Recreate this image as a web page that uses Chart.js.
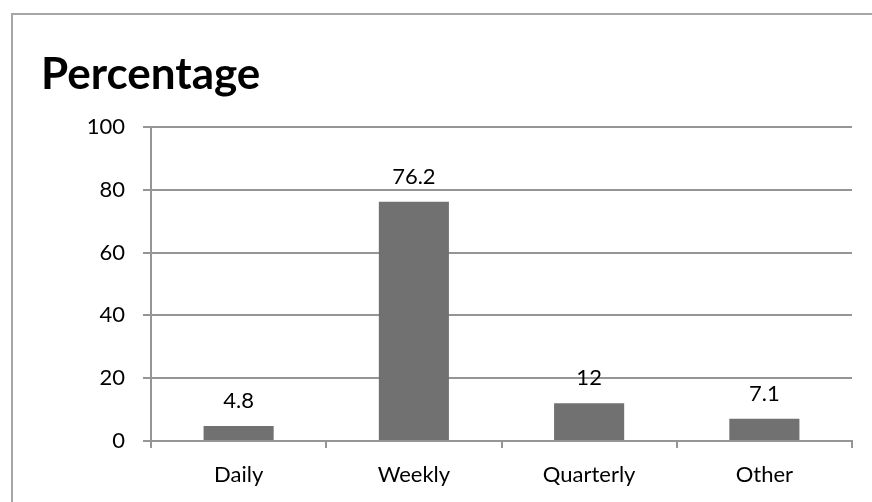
<!DOCTYPE html>
<html>
<head>
<meta charset="utf-8">
<script src="https://cdn.jsdelivr.net/npm/chart.js@4/dist/chart.umd.min.js"></script>
<style>
  html, body { margin: 0; padding: 0; background: #fff; }
  #wrap { position: relative; width: 872px; height: 502px; }
  #frame { position: absolute; left: 11px; top: 13px; right: 0; bottom: 0;
           border-top: 2px solid #a6a6a6; border-left: 2px solid #a6a6a6; pointer-events: none; }
  canvas { position: absolute; left: 0; top: 0; }
</style>
</head>
<body>
<div id="wrap">
  <canvas id="chart" width="872" height="502"></canvas>
  <div id="frame"></div>
</div>
<script>
'use strict';

var categories = ['Daily', 'Weekly', 'Quarterly', 'Other'];
var percentages = [4.8, 76.2, 12, 7.1];
var yTicks = [0, 20, 40, 60, 80, 100];

var fontFamily = 'Lato, "Open Sans", sans-serif';

// value labels above bars + left title
var labelPlugin = {
  id: 'labels',
  afterDatasetsDraw: function (chart) {
    var ctx = chart.ctx;
    var meta = chart.getDatasetMeta(0);
    ctx.save();
    ctx.fillStyle = '#000';
    ctx.font = '22px ' + fontFamily;
    ctx.textAlign = 'center';
    ctx.textBaseline = 'alphabetic';
    meta.data.forEach(function (bar, i) {
      ctx.fillText(String(percentages[i]), bar.x, bar.y - 18);
    });
    ctx.font = 'bold 44px ' + fontFamily;
    ctx.textAlign = 'left';
    ctx.fillText('Percentage', 41, 89);
    ctx.restore();
  }
};

var ctx = document.getElementById('chart').getContext('2d');
new Chart(ctx, {
  type: 'bar',
  data: {
    labels: categories,
    datasets: [{
      data: percentages,
      backgroundColor: '#717171',
      borderWidth: 0,
      categoryPercentage: 1,
      barPercentage: 0.4
    }]
  },
  options: {
    responsive: false,
    animation: false,
    layout: { padding: { left: 42, top: 127, right: 20, bottom: 0 } },
    plugins: { legend: { display: false }, tooltip: { enabled: false }, title: { display: false } },
    scales: {
      x: {
        grid: { offset: true, drawOnChartArea: false, drawTicks: true, tickLength: 7, color: '#959595', lineWidth: 2 },
        border: { color: '#959595', width: 2 },
        ticks: { color: '#000', font: { family: fontFamily, size: 22 }, padding: 14 },
        afterFit: function (axis) { axis.height = 61; }
      },
      y: {
        min: 0, max: 100,
        afterBuildTicks: function (axis) { axis.ticks = yTicks.map(function (v) { return { value: v }; }); },
        grid: { color: '#959595', lineWidth: 2, tickLength: 8 },
        border: { color: '#959595', width: 2 },
        ticks: { color: '#000', font: { family: fontFamily, size: 22 }, padding: 18 },
        afterFit: function (axis) { axis.width = 109; }
      }
    }
  },
  plugins: [labelPlugin]
});
</script>
</body>
</html>
